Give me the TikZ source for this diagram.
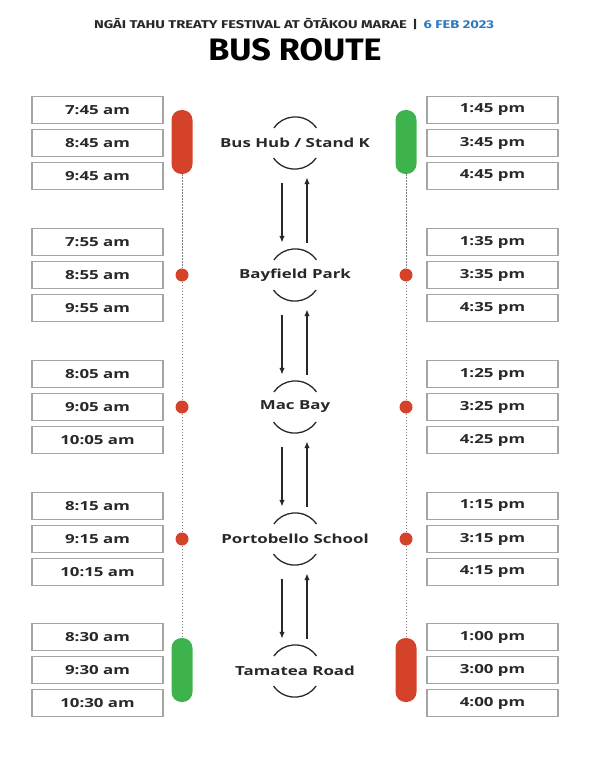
\documentclass[tikz,border=0pt]{standalone}
\usepackage{fontspec}
\setmainfont{Open Sans}
\newfontfamily\headfont{Fira Sans}[FakeStretch=1.3]
\newfontfamily\titlefont{Fira Sans}[FakeStretch=1.1]
\newfontfamily\timefont{Open Sans}[FakeStretch=1.35]
\usetikzlibrary{arrows.meta}

\definecolor{busred}{RGB}{212,66,42}
\definecolor{busgreen}{RGB}{62,178,76}
\definecolor{busblue}{RGB}{46,120,188}
\definecolor{boxgray}{RGB}{165,165,165}
\definecolor{inkgray}{RGB}{40,40,40}

\begin{document}
\begin{tikzpicture}[x=1pt,y=-1pt]

      \useasboundingbox (0,0) rectangle (590,759);

      % heading
      \node[font=\headfont\bfseries\fontsize{11.3}{12}\selectfont, text=inkgray] (fest) at (294,24)
        {NGĀI TAHU TREATY FESTIVAL AT ŌTĀKOU MARAE\enspace|\enspace\textcolor{busblue}{6 FEB 2023}};
      \node[font=\titlefont\bfseries\fontsize{31}{31}\selectfont, text=black] (title) at (295,50) {BUS ROUTE};

      % departure times, left
      \begin{scope}[every node/.style={draw=boxgray, line width=1.3pt, minimum width=131pt, minimum height=27pt,
          inner sep=0pt, text=inkgray, font=\timefont\bfseries\fontsize{12.5}{13}\selectfont}]
        \node (l1a) at (97.5,110) {7:45 am};
        \node (l1b) at (97.5,143) {8:45 am};
        \node (l1c) at (97.5,176) {9:45 am};
        \node (l2a) at (97.5,242) {7:55 am};
        \node (l2b) at (97.5,275) {8:55 am};
        \node (l2c) at (97.5,308) {9:55 am};
        \node (l3a) at (97.5,374) {8:05 am};
        \node (l3b) at (97.5,407) {9:05 am};
        \node (l3c) at (97.5,440) {10:05 am};
        \node (l4a) at (97.5,506) {8:15 am};
        \node (l4b) at (97.5,539) {9:15 am};
        \node (l4c) at (97.5,572) {10:15 am};
        \node (l5a) at (97.5,637) {8:30 am};
        \node (l5b) at (97.5,670) {9:30 am};
        \node (l5c) at (97.5,703) {10:30 am};
        % return times, right
        \node (r1a) at (492.5,110) {1:45 pm};
        \node (r1b) at (492.5,143) {3:45 pm};
        \node (r1c) at (492.5,176) {4:45 pm};
        \node (r2a) at (492.5,242) {1:35 pm};
        \node (r2b) at (492.5,275) {3:35 pm};
        \node (r2c) at (492.5,308) {4:35 pm};
        \node (r3a) at (492.5,374) {1:25 pm};
        \node (r3b) at (492.5,407) {3:25 pm};
        \node (r3c) at (492.5,440) {4:25 pm};
        \node (r4a) at (492.5,506) {1:15 pm};
        \node (r4b) at (492.5,539) {3:15 pm};
        \node (r4c) at (492.5,572) {4:15 pm};
        \node (r5a) at (492.5,637) {1:00 pm};
        \node (r5b) at (492.5,670) {3:00 pm};
        \node (r5c) at (492.5,703) {4:00 pm};
      \end{scope}

      % end pills and stop dots
      \begin{scope}[every node/.style={rounded corners=10pt, minimum width=21pt, minimum height=64pt, inner sep=0pt}]
        \node[fill=busred]   (lp1) at (182,142) {};
        \node[fill=busgreen] (lp5) at (182,670) {};
        \node[fill=busgreen] (rp1) at (406,142) {};
        \node[fill=busred]   (rp5) at (406,670) {};
      \end{scope}
      \begin{scope}[every node/.style={circle, fill=busred, minimum size=13pt, inner sep=0pt}]
        \node (ld2) at (182,275) {};
        \node (ld3) at (182,407) {};
        \node (ld4) at (182,539) {};
        \node (rd2) at (406,275) {};
        \node (rd3) at (406,407) {};
        \node (rd4) at (406,539) {};
      \end{scope}

      \begin{scope}[every edge/.style={draw=gray, line width=1pt, dash pattern=on 1.5pt off 1.5pt}]
        \path (lp1) edge (ld2);
        \path (ld2) edge (ld3);
        \path (ld3) edge (ld4);
        \path (ld4) edge (lp5);
        \path (rp1) edge (rd2);
        \path (rd2) edge (rd3);
        \path (rd3) edge (rd4);
        \path (rd4) edge (rp5);
      \end{scope}

      % stops
      \begin{scope}[every node/.style={circle, minimum size=52pt, inner sep=0pt}]
        \node (hubring) at (295,143) {};
        \node (bayring) at (295,275) {};
        \node (macring) at (295,407) {};
        \node (portring) at (295,539) {};
        \node (tamring) at (295,671) {};
      \end{scope}
      \begin{scope}[every node/.style={text=inkgray, font=\timefont\bfseries\fontsize{12.5}{13}\selectfont}]
        \node (hub) at (hubring) {Bus Hub / Stand K};
        \node (bay) at (bayring) {Bayfield Park};
        \node (mac) at (macring) {Mac Bay};
        \node (port) at (portring) {Portobello School};
        \node (tam) at (tamring) {Tamatea Road};
      \end{scope}

      \begin{scope}[line width=1.3pt, draw=inkgray]
        \draw (hubring.35) arc (35:145:26pt);   \draw (hubring.215) arc (215:325:26pt);
        \draw (bayring.35) arc (35:145:26pt);   \draw (bayring.215) arc (215:325:26pt);
        \draw (macring.35) arc (35:145:26pt);   \draw (macring.215) arc (215:325:26pt);
        \draw (portring.35) arc (35:145:26pt);  \draw (portring.215) arc (215:325:26pt);
        \draw (tamring.35) arc (35:145:26pt);   \draw (tamring.215) arc (215:325:26pt);
      \end{scope}

      \begin{scope}[every edge/.style={draw=inkgray, line width=1.4pt, -{Latex[length=7pt,width=5.5pt]}}]
        \path ([xshift=-13pt]hubring.south) edge[shorten <=14pt, shorten >=6pt] ([xshift=-13pt]bayring.north);
        \path ([xshift=12pt]bayring.north) edge[shorten <=6pt, shorten >=8pt] ([xshift=12pt]hubring.south);
        \path ([xshift=-13pt]bayring.south) edge[shorten <=14pt, shorten >=6pt] ([xshift=-13pt]macring.north);
        \path ([xshift=12pt]macring.north) edge[shorten <=6pt, shorten >=8pt] ([xshift=12pt]bayring.south);
        \path ([xshift=-13pt]macring.south) edge[shorten <=14pt, shorten >=6pt] ([xshift=-13pt]portring.north);
        \path ([xshift=12pt]portring.north) edge[shorten <=6pt, shorten >=8pt] ([xshift=12pt]macring.south);
        \path ([xshift=-13pt]portring.south) edge[shorten <=14pt, shorten >=6pt] ([xshift=-13pt]tamring.north);
        \path ([xshift=12pt]tamring.north) edge[shorten <=6pt, shorten >=8pt] ([xshift=12pt]portring.south);
      \end{scope}

\end{tikzpicture}
\end{document}
